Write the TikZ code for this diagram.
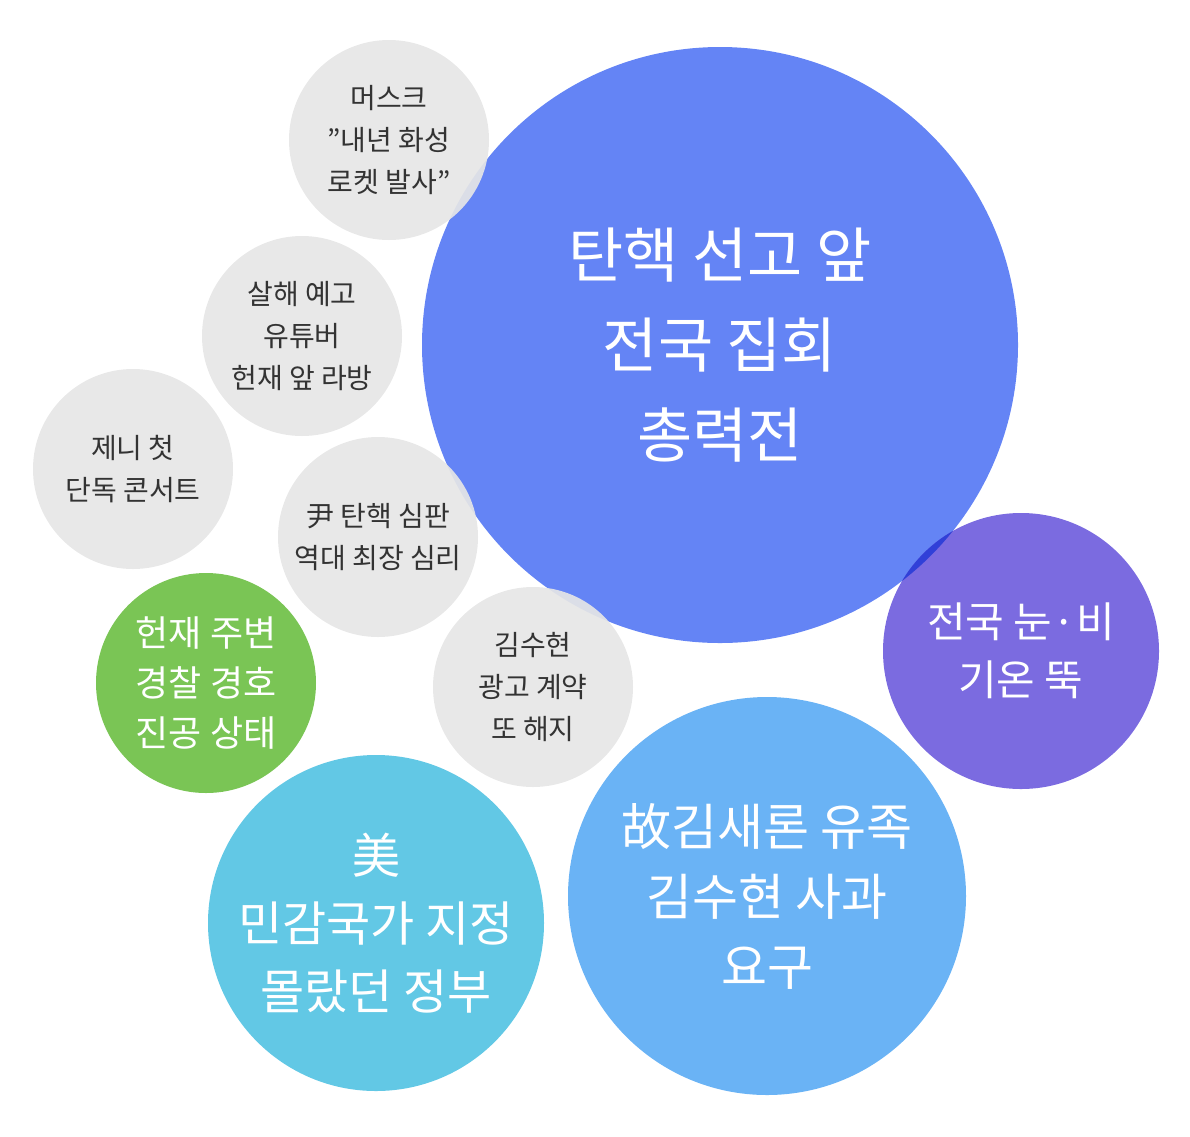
\documentclass[tikz,border=0pt]{standalone}
\usepackage{fontspec}
\setmainfont{Noto Sans CJK KR}
\definecolor{cbig}{HTML}{6484F5}
\definecolor{cpur}{HTML}{7B6BE0}
\definecolor{covl}{HTML}{3040D8}
\definecolor{cmid}{HTML}{6AB3F5}
\definecolor{ccyan}{HTML}{62C8E5}
\definecolor{cgreen}{HTML}{7AC555}
\definecolor{cgray}{HTML}{E6E6E6}
\definecolor{ctext}{HTML}{333333}
\tikzset{
 bub/.style={circle,inner sep=0pt,align=center,text=white},
 graybub/.style={bub,minimum size=200pt,fill=cgray,fill opacity=0.92,text opacity=1,text=ctext,font=\fontsize{28}{42}\selectfont},
}
\begin{document}
\begin{tikzpicture}[x=1pt,y=-1pt]
\useasboundingbox (0,0) rectangle (1190,1136);
\node[bub,minimum size=596pt,fill=cbig,font=\fontsize{60}{90}\selectfont] (big) at (720,345) {탄핵 선고 앞\\전국 집회\\총력전};
\node[bub,minimum size=276pt,fill=cpur,font=\fontsize{42}{58}\selectfont] (pur) at (1021,651) {전국 눈·비\\기온 뚝};
\begin{scope}
\clip (720,345) circle (298);
\fill[covl] (1021,651) circle (138);
\end{scope}
\node[bub,minimum size=398pt,fill=cmid,font=\fontsize{50}{70}\selectfont] (mid) at (767,896) {故김새론 유족\\김수현 사과\\요구};
\node[bub,minimum size=336pt,fill=ccyan,font=\fontsize{48}{68}\selectfont] (cyan) at (376,923) {美\\민감국가 지정\\몰랐던 정부};
\node[bub,minimum size=220pt,fill=cgreen,font=\fontsize{36}{50}\selectfont] (green) at (206,683) {헌재 주변\\경찰 경호\\진공 상태};
\node[graybub] (g1) at (389,140) {머스크\\"내년 화성\\로켓 발사"};
\node[graybub] (g2) at (302,336) {살해 예고\\유튜버\\헌재 앞 라방};
\node[graybub] (g3) at (133,469) {제니 첫\\단독 콘서트};
\node[graybub] (g4) at (378,537) {尹 탄핵 심판\\역대 최장 심리};
\node[graybub] (g5) at (533,687) {김수현\\광고 계약\\또 해지};
\end{tikzpicture}
\end{document}
